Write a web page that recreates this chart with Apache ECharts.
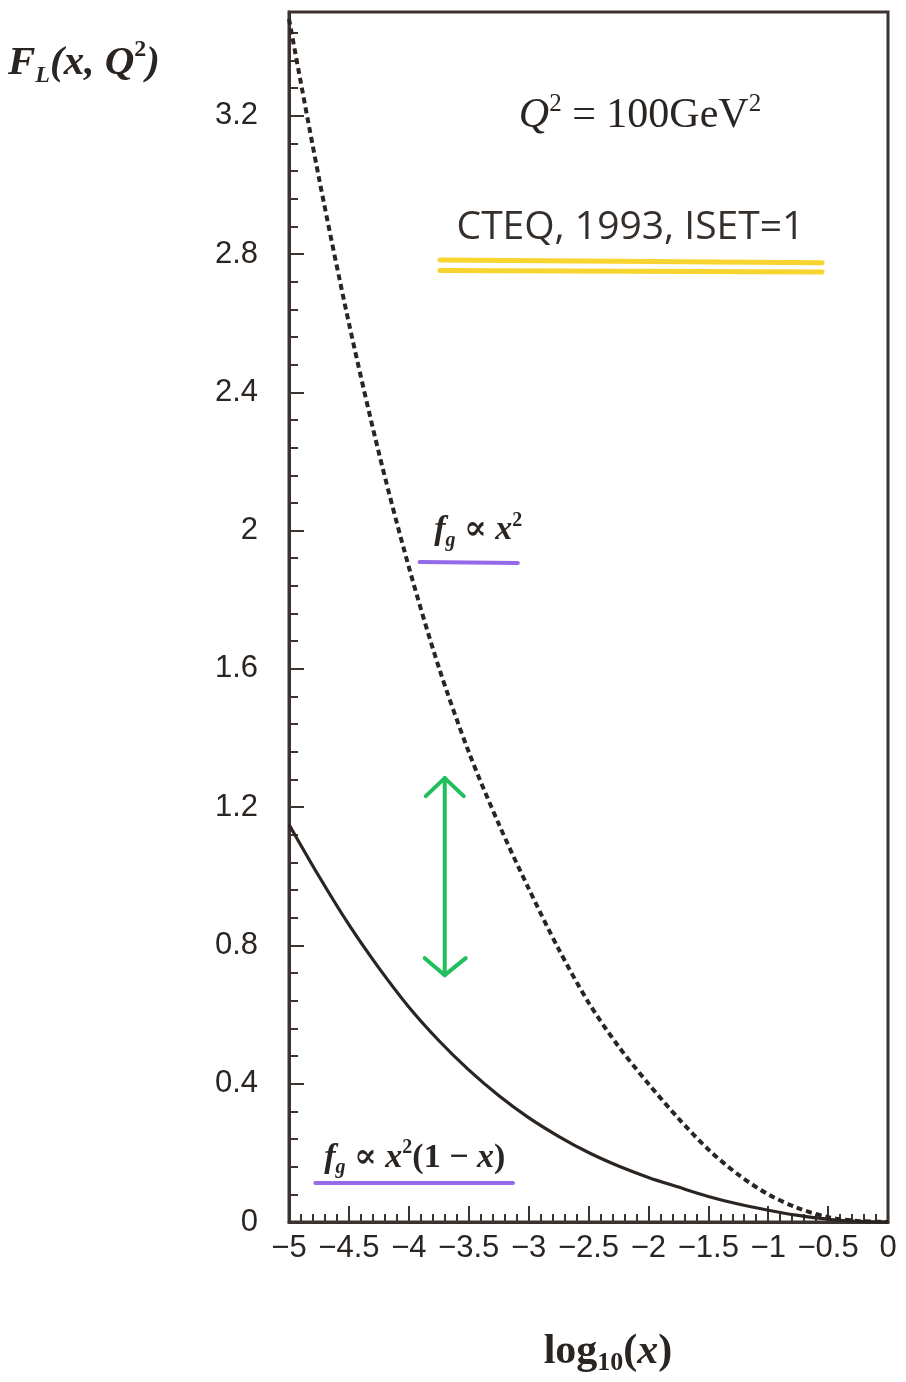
<!DOCTYPE html>
<html><head><meta charset="utf-8">
<script src="https://cdn.jsdelivr.net/npm/echarts@6/dist/echarts.min.js"></script>
<style>html,body{margin:0;padding:0;background:#fff}#c{width:906px;height:1382px}</style>
</head><body><div id="c"></div>
<script>
// ---- data ----
const logX = [-5, -4.75, -4.5, -4.25, -4, -3.75, -3.5, -3.25, -3, -2.75, -2.5, -2.25, -2, -1.75, -1.5, -1.25, -1, -0.75, -0.5, -0.25, 0];
const fgX2 = [3.48, 3.02, 2.60, 2.225, 1.895, 1.605, 1.36, 1.152, 0.965, 0.79, 0.635, 0.508, 0.40, 0.30, 0.21, 0.137, 0.08, 0.04, 0.014, 0.003, 0];
const fgX2OneMinusX = [1.15, 1.00, 0.86, 0.735, 0.622, 0.525, 0.44, 0.366, 0.302, 0.248, 0.201, 0.162, 0.129, 0.101, 0.074, 0.052, 0.034, 0.019, 0.008, 0.002, 0];
const xTicks = [-5, -4.5, -4, -3.5, -3, -2.5, -2, -1.5, -1, -0.5, 0];
const yTicks = [0, 0.4, 0.8, 1.2, 1.6, 2, 2.4, 2.8, 3.2];

const INK = '#2b2522';
const FRAME = '#3a3330';
const SERIF = "'Liberation Serif','DejaVu Serif',serif";
const SANS = "'Liberation Sans',Arial,sans-serif";

const chart = echarts.init(document.getElementById('c'), null, {renderer: 'canvas'});

const fmtNum = v => {
  const r = Math.round(v * 100) / 100;
  return (r < 0 ? '\u2212' : '') + String(Math.abs(r));
};
const gridBox = {left: 289, right: 18, top: 12, bottom: 160};

const option = {
  animation: false,
  backgroundColor: '#ffffff',
  grid: [
    Object.assign({show: true, borderColor: FRAME, borderWidth: 3, backgroundColor: 'transparent'}, gridBox),
    Object.assign({show: false}, gridBox)
  ],
  xAxis: [{
    type: 'value', gridIndex: 0, min: -5, max: 0, interval: 0.5,
    axisLine: {show: true, onZero: false, lineStyle: {color: FRAME, width: 3}},
    axisTick: {show: true, inside: true, length: 16, lineStyle: {color: FRAME, width: 2}},
    minorTick: {show: true, splitNumber: 5, length: 8, lineStyle: {color: FRAME, width: 2}},
    splitLine: {show: false},
    axisLabel: {
      color: INK, fontFamily: SANS, fontSize: 31, margin: 11,
      formatter: v => xTicks.some(t => Math.abs(t - v) < 1e-6) ? fmtNum(v) : ''
    }
  }, {
    type: 'value', gridIndex: 1, min: -5, max: 0, show: false
  }],
  yAxis: [{
    type: 'value', gridIndex: 0, min: 0, max: 3.5, interval: 0.4,
    axisLine: {show: true, onZero: false, lineStyle: {color: FRAME, width: 3}},
    axisTick: {show: true, inside: true, length: 15, lineStyle: {color: FRAME, width: 2}},
    splitLine: {show: false},
    axisLabel: {
      color: INK, fontFamily: SANS, fontSize: 31, margin: 31, showMaxLabel: false,
      formatter: v => yTicks.some(t => Math.abs(t - v) < 1e-6) ? fmtNum(v) : ''
    }
  }, {
    type: 'value', gridIndex: 1, min: 0, max: 3.5, interval: 0.08, position: 'left',
    axisLine: {show: false, onZero: false},
    axisTick: {show: true, inside: true, length: 9, lineStyle: {color: FRAME, width: 2}},
    axisLabel: {show: false},
    splitLine: {show: false}
  }],
  series: [{
    name: 'fg ∝ x²', type: 'line', xAxisIndex: 0, yAxisIndex: 0,
    data: logX.map((x, i) => [x, fgX2[i]]),
    smooth: 0.3, showSymbol: false, symbol: 'none',
    lineStyle: {color: INK, width: 4, type: [6, 4]},
    z: 3
  }, {
    name: 'fg ∝ x²(1−x)', type: 'line', xAxisIndex: 0, yAxisIndex: 0,
    data: logX.map((x, i) => [x, fgX2OneMinusX[i]]),
    smooth: 0.3, showSymbol: false, symbol: 'none',
    lineStyle: {color: INK, width: 3.2},
    z: 3
  }]
};
chart.setOption(option);

// ---- annotations (placed in data coordinates) ----
const P = (x, y) => chart.convertToPixel({gridIndex: 0}, [x, y]);
const g = [];
const textEl = (cx, cy, text, rich) => ({
  type: 'text', x: cx, y: cy, z: 20,
  style: {text, rich, align: 'center', verticalAlign: 'middle', fill: INK}
});

// y-axis title
g.push({
  type: 'text', left: 8, top: 38, z: 20,
  style: {
    text: '{b|F}{sub|L}{b|(x, Q}{sup|2}{b|)}',
    rich: {
      b: {fontFamily: SERIF, fontSize: 41, fontWeight: 'bold', fontStyle: 'italic', fill: INK, lineHeight: 50},
      sub: {fontFamily: SERIF, fontSize: 24, fontWeight: 'bold', fontStyle: 'italic', fill: INK, verticalAlign: 'bottom', lineHeight: 24},
      sup: {fontFamily: SERIF, fontSize: 24, fontWeight: 'bold', fill: INK, verticalAlign: 'top', lineHeight: 24}
    }
  }
});
// x-axis title
g.push({
  type: 'text', x: 608, y: 1352, z: 20,
  style: {
    text: '{b|log}{sub|10}{b|(}{i|x}{b|)}', align: 'center', verticalAlign: 'middle',
    rich: {
      b: {fontFamily: SERIF, fontSize: 42, fontWeight: 'bold', fill: INK, lineHeight: 48},
      i: {fontFamily: SERIF, fontSize: 42, fontWeight: 'bold', fontStyle: 'italic', fill: INK, lineHeight: 48},
      sub: {fontFamily: SERIF, fontSize: 26, fontWeight: 'bold', fill: INK, verticalAlign: 'bottom', lineHeight: 26}
    }
  }
});

let p = P(-2.07, 3.20);
g.push(textEl(p[0], p[1], '{i|Q}{sup|2}{n| = 100GeV}{sup|2}', {
  i: {fontFamily: SERIF, fontSize: 42, fontStyle: 'italic', fill: INK, lineHeight: 48},
  n: {fontFamily: SERIF, fontSize: 42, fill: INK, lineHeight: 48},
  sup: {fontFamily: SERIF, fontSize: 25, fill: INK, verticalAlign: 'top', lineHeight: 25}
}));
p = P(-2.15, 2.875);
g.push({type: 'text', x: p[0], y: p[1], z: 20, style: {text: 'CTEQ, 1993, ISET=1', fontFamily: "'Open Sans','Lato',sans-serif", fontSize: 39, fill: '#352e2b', align: 'center', verticalAlign: 'middle'}});

const fRich = {
  b: {fontFamily: SERIF, fontSize: 34, fontWeight: 'bold', fontStyle: 'italic', fill: INK, lineHeight: 40},
  n: {fontFamily: SERIF, fontSize: 34, fontWeight: 'bold', fill: INK, lineHeight: 40},
  sub: {fontFamily: SERIF, fontSize: 20, fontWeight: 'bold', fontStyle: 'italic', fill: INK, verticalAlign: 'bottom', lineHeight: 20},
  sup: {fontFamily: SERIF, fontSize: 20, fontWeight: 'bold', fill: INK, verticalAlign: 'top', lineHeight: 20}
};
p = P(-3.42, 2.0);
g.push(textEl(p[0], p[1], '{b|f}{sub|g}{n| \u221D }{b|x}{sup|2}', fRich));
p = P(-3.95, 0.185);
g.push(textEl(p[0], p[1], '{b|f}{sub|g}{n| \u221D }{b|x}{sup|2}{n|(1 \u2212 }{b|x}{n|)}', fRich));

const seg = (a, b, color, w) => {
  const A = P(a[0], a[1]), B = P(b[0], b[1]);
  return {type: 'line', z: 15, shape: {x1: A[0], y1: A[1], x2: B[0], y2: B[1]}, style: {stroke: color, lineWidth: w, lineCap: 'round', opacity: 0.9}};
};
// yellow double underline
g.push(seg([-3.74, 2.783], [-0.55, 2.775], '#f6cf1a', 5));
g.push(seg([-3.74, 2.752], [-0.55, 2.748], '#f6cf1a', 5));
// purple underlines
g.push(seg([-3.91, 1.909], [-3.09, 1.906], '#8a5ae6', 4));
g.push(seg([-4.78, 0.113], [-3.13, 0.113], '#8a5ae6', 4));
// green double arrow
const aTop = P(-3.70, 1.284), aBot = P(-3.70, 0.714);
const GREEN = '#1fbf5c';
g.push({type: 'line', z: 15, shape: {x1: aTop[0], y1: aTop[1], x2: aBot[0], y2: aBot[1]}, style: {stroke: GREEN, lineWidth: 4, lineCap: 'round'}});
g.push({type: 'polyline', z: 15, shape: {points: [[aTop[0] - 19, aTop[1] + 18], [aTop[0], aTop[1]], [aTop[0] + 19, aTop[1] + 18]]}, style: {stroke: GREEN, lineWidth: 4, lineCap: 'round', lineJoin: 'round', fill: null}});
g.push({type: 'polyline', z: 15, shape: {points: [[aBot[0] - 20, aBot[1] - 17], [aBot[0], aBot[1]], [aBot[0] + 21, aBot[1] - 17]]}, style: {stroke: GREEN, lineWidth: 4, lineCap: 'round', lineJoin: 'round', fill: null}});

chart.setOption({graphic: g});
</script>
</body></html>
